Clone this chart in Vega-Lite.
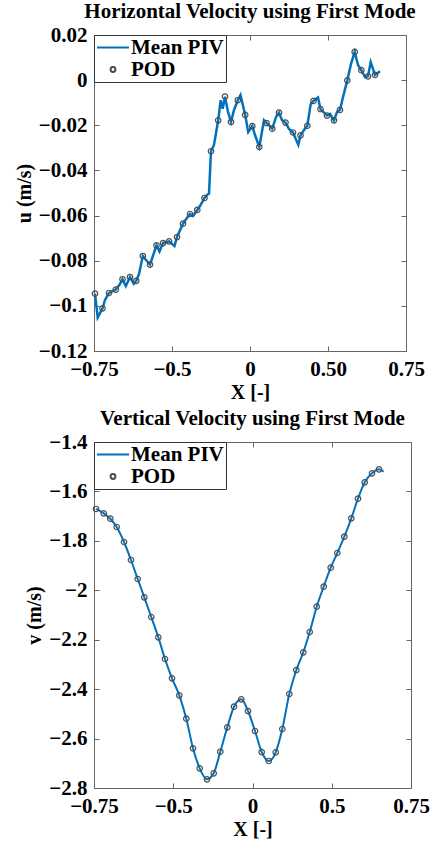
{
  "$schema": "https://vega.github.io/schema/vega-lite/v6.json",
  "background": "white",
  "padding": {"left": 13, "top": 0, "right": 5, "bottom": 0},
  "spacing": 4,
  "config": {
    "view": {"stroke": "#666666", "strokeWidth": 1},
    "axis": {"grid": false, "domain": false, "tickColor": "#666666", "tickSize": -5, "tickWidth": 1, "labelFont": "Liberation Serif", "labelFontSize": 21, "labelFontWeight": "bold", "labelColor": "black", "labelPadding": 12, "labelFlush": false, "labelOverlap": false, "titleFont": "Liberation Serif", "titleFontSize": 20, "titleFontWeight": "bold", "titleColor": "black"},
    "axisX": {"titlePadding": 3, "labelPadding": 12},
    "axisY": {"titlePadding": 4},
    "title": {"font": "Liberation Serif", "fontSize": 21, "fontWeight": "bold", "color": "black", "anchor": "middle", "offset": 2}
  },
  "resolve": {"scale": {"color": "independent"}, "legend": {"color": "independent"}},
  "vconcat": [
    {
      "title": {"text": "Horizontal Velocity using First Mode"},
      "width": 312,
      "height": 316,
      "data": {"values": [
        {"x": -0.7452, "u": -0.0946, "pod": 1}, {"x": -0.7322, "u": -0.1052, "pod": 0}, {"x": -0.7091, "u": -0.1011, "pod": 1}, {"x": -0.6971, "u": -0.0974, "pod": 0},
        {"x": -0.6779, "u": -0.0943, "pod": 1}, {"x": -0.6635, "u": -0.0936, "pod": 0}, {"x": -0.6452, "u": -0.0928, "pod": 1}, {"x": -0.6284, "u": -0.0908, "pod": 0},
        {"x": -0.613, "u": -0.0882, "pod": 1}, {"x": -0.5971, "u": -0.0912, "pod": 0}, {"x": -0.5769, "u": -0.0872, "pod": 1}, {"x": -0.5587, "u": -0.0902, "pod": 0},
        {"x": -0.5471, "u": -0.0889, "pod": 1}, {"x": -0.5337, "u": -0.0859, "pod": 0}, {"x": -0.5154, "u": -0.0779, "pod": 1}, {"x": -0.5, "u": -0.0797, "pod": 0},
        {"x": -0.4808, "u": -0.0817, "pod": 1}, {"x": -0.4495, "u": -0.0732, "pod": 1}, {"x": -0.4351, "u": -0.0759, "pod": 0}, {"x": -0.4183, "u": -0.0722, "pod": 1},
        {"x": -0.3894, "u": -0.0714, "pod": 1}, {"x": -0.363, "u": -0.0735, "pod": 0}, {"x": -0.351, "u": -0.0695, "pod": 1}, {"x": -0.3221, "u": -0.0636, "pod": 1},
        {"x": -0.3101, "u": -0.062, "pod": 0}, {"x": -0.2885, "u": -0.0593, "pod": 1}, {"x": -0.274, "u": -0.0602, "pod": 0}, {"x": -0.2534, "u": -0.0575, "pod": 1},
        {"x": -0.2404, "u": -0.0558, "pod": 0}, {"x": -0.2187, "u": -0.0522, "pod": 1}, {"x": -0.2067, "u": -0.0509, "pod": 0}, {"x": -0.1971, "u": -0.0503, "pod": 0},
        {"x": -0.1875, "u": -0.0315, "pod": 1}, {"x": -0.1731, "u": -0.0287, "pod": 0}, {"x": -0.1529, "u": -0.0178, "pod": 1}, {"x": -0.1409, "u": -0.0089, "pod": 0},
        {"x": -0.1312, "u": -0.0127, "pod": 0}, {"x": -0.1202, "u": -0.0073, "pod": 1}, {"x": -0.1058, "u": -0.0141, "pod": 0}, {"x": -0.0913, "u": -0.0185, "pod": 1},
        {"x": -0.0769, "u": -0.0132, "pod": 0}, {"x": -0.0587, "u": -0.0089, "pod": 1}, {"x": -0.0457, "u": -0.0066, "pod": 0}, {"x": -0.0231, "u": -0.0154, "pod": 1},
        {"x": -0.0087, "u": -0.023, "pod": 0}, {"x": 0.0111, "u": -0.0204, "pod": 1}, {"x": 0.024, "u": -0.0243, "pod": 0}, {"x": 0.0447, "u": -0.0296, "pod": 1},
        {"x": 0.0673, "u": -0.0178, "pod": 0}, {"x": 0.0793, "u": -0.019, "pod": 1}, {"x": 0.0913, "u": -0.0199, "pod": 0}, {"x": 0.1072, "u": -0.0215, "pod": 1},
        {"x": 0.125, "u": -0.0163, "pod": 0}, {"x": 0.1394, "u": -0.0144, "pod": 1}, {"x": 0.1538, "u": -0.0177, "pod": 0}, {"x": 0.1707, "u": -0.0188, "pod": 1},
        {"x": 0.1875, "u": -0.0216, "pod": 0}, {"x": 0.2067, "u": -0.0232, "pod": 1}, {"x": 0.2322, "u": -0.0286, "pod": 0}, {"x": 0.2428, "u": -0.0245, "pod": 1},
        {"x": 0.2596, "u": -0.0221, "pod": 0}, {"x": 0.2755, "u": -0.0202, "pod": 1}, {"x": 0.2918, "u": -0.0106, "pod": 0}, {"x": 0.3053, "u": -0.0092, "pod": 1},
        {"x": 0.3269, "u": -0.0077, "pod": 0}, {"x": 0.3389, "u": -0.0128, "pod": 1}, {"x": 0.3702, "u": -0.0157, "pod": 1}, {"x": 0.3846, "u": -0.015, "pod": 0},
        {"x": 0.4038, "u": -0.0178, "pod": 1}, {"x": 0.4183, "u": -0.0141, "pod": 0}, {"x": 0.4327, "u": -0.0132, "pod": 1}, {"x": 0.4471, "u": -0.0075, "pod": 0},
        {"x": 0.4678, "u": -0.0001, "pod": 1}, {"x": 0.4856, "u": 0.0072, "pod": 0}, {"x": 0.5034, "u": 0.0125, "pod": 1}, {"x": 0.5192, "u": 0.0067, "pod": 0},
        {"x": 0.5351, "u": 0.0044, "pod": 1}, {"x": 0.5529, "u": 0.0014, "pod": 0}, {"x": 0.5673, "u": 0.0017, "pod": 1}, {"x": 0.5803, "u": 0.008, "pod": 0},
        {"x": 0.601, "u": 0.0023, "pod": 1}, {"x": 0.625, "u": 0.0039, "pod": 0}
      ]},
      "layer": [
        {
          "mark": {"type": "line", "strokeWidth": 2.5},
          "encoding": {
            "x": {"field": "x", "type": "quantitative", "scale": {"domain": [-0.75, 0.75], "nice": false, "zero": false},
                  "axis": {"orient": "bottom", "values": [-0.75, -0.375, 0, 0.375, 0.75], "title": "X [-]",
                           "labelExpr": "datum.value == -0.75 ? '−0.75' : datum.value == -0.375 ? '−0.5' : datum.value == 0 ? '0' : datum.value == 0.375 ? '0.50' : '0.75'"}},
            "y": {"field": "u", "type": "quantitative", "scale": {"domain": [-0.12, 0.02], "nice": false, "zero": false},
                  "axis": {"orient": "left", "values": [-0.12, -0.1, -0.08, -0.06, -0.04, -0.02, 0, 0.02], "format": ".2~f", "title": "u (m/s)"}},
            "color": {"datum": "Mean PIV", "type": "nominal",
                      "scale": {"domain": ["Mean PIV", "POD"], "range": ["#0072BD", "#4d4d4d"]},
                      "legend": {"title": null, "orient": "top-left", "offset": 0, "padding": 2, "rowPadding": 0,
                                 "strokeColor": "#333333", "fillColor": "white",
                                 "labelFont": "Liberation Serif", "labelFontSize": 21, "labelFontWeight": "bold", "labelColor": "black",
                                 "symbolType": "stroke", "symbolSize": 1024, "symbolStrokeWidth": 2, "labelOffset": 1, "clipHeight": 21,
                                 "encode": {"symbols": {"update": {
                                   "shape": {"signal": "datum.value === 'POD' ? 'M0.15,0A0.15,0.15,0,1,1,-0.15,0A0.15,0.15,0,1,1,0.15,0Z' : 'stroke'"},
                                   "stroke": {"signal": "datum.value === 'POD' ? '#4d4d4d' : '#0072BD'"},
                                   "fill": {"value": "transparent"}}}}}}
          }
        },
        {
          "transform": [{"filter": "datum.pod == 1"}],
          "mark": {"type": "point", "filled": false, "size": 30, "strokeWidth": 1.2, "opacity": 1},
          "encoding": {
            "x": {"field": "x", "type": "quantitative", "axis": {"orient": "top", "values": [-0.75, -0.375, 0, 0.375, 0.75], "labels": false, "title": null}},
            "y": {"field": "u", "type": "quantitative", "axis": {"orient": "right", "values": [-0.12, -0.1, -0.08, -0.06, -0.04, -0.02, 0, 0.02], "labels": false, "title": null}},
            "color": {"datum": "POD", "type": "nominal"}
          }
        }
      ],
      "resolve": {"axis": {"x": "independent", "y": "independent"}}
    },
    {
      "title": {"text": "Vertical Velocity using First Mode"},
      "width": 317,
      "height": 346,
      "data": {"values": [
        {"x": -0.7405, "v": -1.671, "pod": 1}, {"x": -0.7041, "v": -1.6885, "pod": 1}, {"x": -0.6729, "v": -1.7104, "pod": 1}, {"x": -0.6426, "v": -1.7439, "pod": 1},
        {"x": -0.608, "v": -1.8046, "pod": 1}, {"x": -0.5749, "v": -1.8775, "pod": 1}, {"x": -0.5432, "v": -1.9543, "pod": 1}, {"x": -0.512, "v": -2.0284, "pod": 1},
        {"x": -0.4789, "v": -2.1081, "pod": 1}, {"x": -0.4457, "v": -2.1902, "pod": 1}, {"x": -0.414, "v": -2.278, "pod": 1}, {"x": -0.3809, "v": -2.3561, "pod": 1},
        {"x": -0.3464, "v": -2.4249, "pod": 1}, {"x": -0.3132, "v": -2.5196, "pod": 1}, {"x": -0.2815, "v": -2.6394, "pod": 1}, {"x": -0.2498, "v": -2.7203, "pod": 1},
        {"x": -0.2153, "v": -2.7648, "pod": 1}, {"x": -0.1836, "v": -2.7405, "pod": 1}, {"x": -0.1524, "v": -2.6532, "pod": 1}, {"x": -0.1192, "v": -2.5544, "pod": 1},
        {"x": -0.0875, "v": -2.471, "pod": 1}, {"x": -0.053, "v": -2.4411, "pod": 1}, {"x": -0.0213, "v": -2.4885, "pod": 1}, {"x": 0.0118, "v": -2.5694, "pod": 1},
        {"x": 0.0435, "v": -2.6544, "pod": 1}, {"x": 0.0767, "v": -2.6908, "pod": 1}, {"x": 0.1098, "v": -2.6556, "pod": 1}, {"x": 0.141, "v": -2.5613, "pod": 1},
        {"x": 0.1742, "v": -2.4197, "pod": 1}, {"x": 0.2073, "v": -2.3226, "pod": 1}, {"x": 0.2404, "v": -2.2509, "pod": 1}, {"x": 0.2707, "v": -2.1688, "pod": 1},
        {"x": 0.3038, "v": -2.0664, "pod": 1}, {"x": 0.3369, "v": -1.9855, "pod": 1}, {"x": 0.3701, "v": -1.9086, "pod": 1}, {"x": 0.4013, "v": -1.8491, "pod": 1},
        {"x": 0.4344, "v": -1.7832, "pod": 1}, {"x": 0.4675, "v": -1.7087, "pod": 1}, {"x": 0.4992, "v": -1.6294, "pod": 1}, {"x": 0.5309, "v": -1.5631, "pod": 1},
        {"x": 0.5655, "v": -1.5267, "pod": 1}, {"x": 0.5986, "v": -1.5105, "pod": 1}, {"x": 0.6208, "v": -1.5202, "pod": 0}
      ]},
      "layer": [
        {
          "mark": {"type": "line", "strokeWidth": 2, "interpolate": "monotone"},
          "encoding": {
            "x": {"field": "x", "type": "quantitative", "scale": {"domain": [-0.75, 0.75], "nice": false, "zero": false},
                  "axis": {"orient": "bottom", "values": [-0.75, -0.375, 0, 0.375, 0.75], "title": "X [-]",
                           "labelExpr": "datum.value == -0.75 ? '−0.75' : datum.value == -0.375 ? '−0.5' : datum.value == 0 ? '0' : datum.value == 0.375 ? '0.5' : '0.75'"}},
            "y": {"field": "v", "type": "quantitative", "scale": {"domain": [-2.8, -1.4], "nice": false, "zero": false},
                  "axis": {"orient": "left", "values": [-2.8, -2.6, -2.4, -2.2, -2.0, -1.8, -1.6, -1.4], "format": ".1~f", "title": "v (m/s)"}},
            "color": {"datum": "Mean PIV", "type": "nominal",
                      "scale": {"domain": ["Mean PIV", "POD"], "range": ["#0072BD", "#4d4d4d"]},
                      "legend": {"title": null, "orient": "top-left", "offset": 0, "padding": 2, "rowPadding": 0,
                                 "strokeColor": "#333333", "fillColor": "white",
                                 "labelFont": "Liberation Serif", "labelFontSize": 21, "labelFontWeight": "bold", "labelColor": "black",
                                 "symbolType": "stroke", "symbolSize": 1024, "symbolStrokeWidth": 2, "labelOffset": 1, "clipHeight": 21,
                                 "encode": {"symbols": {"update": {
                                   "shape": {"signal": "datum.value === 'POD' ? 'M0.15,0A0.15,0.15,0,1,1,-0.15,0A0.15,0.15,0,1,1,0.15,0Z' : 'stroke'"},
                                   "stroke": {"signal": "datum.value === 'POD' ? '#4d4d4d' : '#0072BD'"},
                                   "fill": {"value": "transparent"}}}}}}
          }
        },
        {
          "transform": [{"filter": "datum.pod == 1"}],
          "mark": {"type": "point", "filled": false, "size": 30, "strokeWidth": 1.2, "opacity": 1},
          "encoding": {
            "x": {"field": "x", "type": "quantitative", "axis": {"orient": "top", "values": [-0.75, -0.375, 0, 0.375, 0.75], "labels": false, "title": null}},
            "y": {"field": "v", "type": "quantitative", "axis": {"orient": "right", "values": [-2.8, -2.6, -2.4, -2.2, -2.0, -1.8, -1.6, -1.4], "labels": false, "title": null}},
            "color": {"datum": "POD", "type": "nominal"}
          }
        }
      ],
      "resolve": {"axis": {"x": "independent", "y": "independent"}}
    }
  ]
}
